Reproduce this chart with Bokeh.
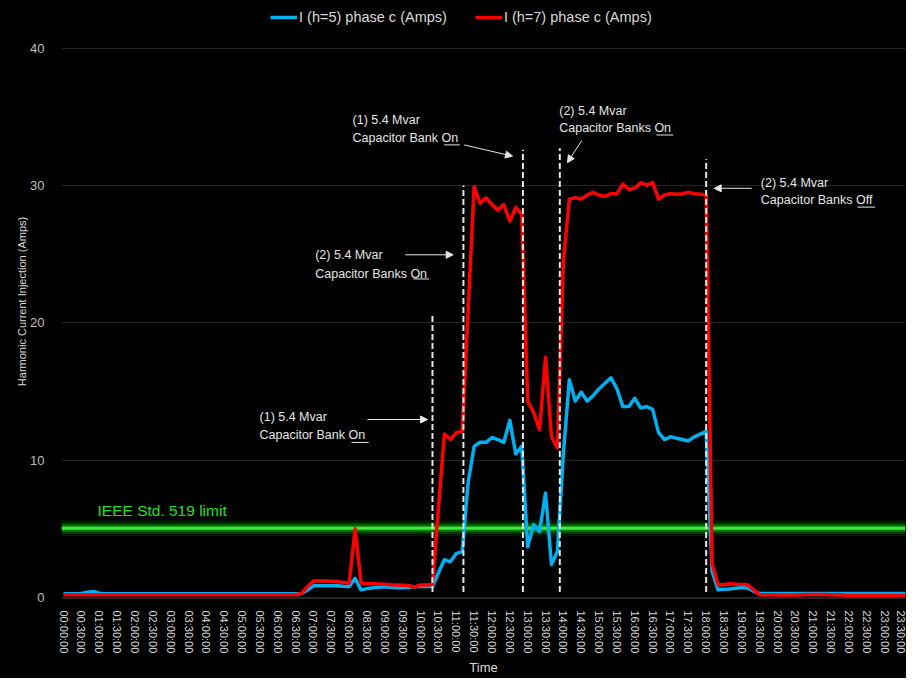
from bokeh.plotting import figure
from bokeh.models import (Range1d, FixedTicker, Legend, LegendItem, Arrow,
                          NormalHead, Label, Span)
from bokeh.core.properties import value
from bokeh.embed import file_html
from bokeh.resources import INLINE

# ---------------- data (10-minute samples, 00:00 .. 23:50) ----------------
sample_minutes = list(range(0, 1440, 10))

h5_amps = [
    0.28, 0.28, 0.28, 0.30, 0.38, 0.45, 0.32, 0.28, 0.28, 0.28,
    0.28, 0.28, 0.28, 0.28, 0.28, 0.28, 0.28, 0.28, 0.28, 0.28,
    0.28, 0.28, 0.28, 0.28, 0.28, 0.28, 0.28, 0.28, 0.28, 0.28,
    0.28, 0.28, 0.28, 0.28, 0.28, 0.28, 0.28, 0.28, 0.28, 0.28,
    0.30, 0.55, 0.85, 0.85, 0.85, 0.85, 0.85, 0.82, 0.80, 1.40,
    0.56, 0.65, 0.72, 0.75, 0.78, 0.75, 0.72, 0.72, 0.75, 0.78,
    0.80, 0.80, 0.80, 1.80, 2.75, 2.60, 3.20, 3.35, 8.40, 11.0,
    11.3, 11.3, 11.65, 11.5, 11.3, 12.9, 10.45, 11.0, 3.70, 5.30,
    4.80, 7.60, 2.40, 3.35, 10.5, 15.85, 14.3, 14.95, 14.3, 14.7,
    15.2, 15.6, 16.0, 15.2, 13.9, 13.9, 14.5, 13.8, 13.9, 13.7,
    12.0, 11.5, 11.7, 11.6, 11.5, 11.4, 11.7, 11.9, 12.1, 1.90,
    0.56, 0.60, 0.63, 0.68, 0.73, 0.70, 0.45, 0.30, 0.30, 0.30,
    0.30, 0.30, 0.30, 0.30, 0.30, 0.30, 0.30, 0.30, 0.30, 0.30,
    0.30, 0.30, 0.30, 0.30, 0.30, 0.30, 0.30, 0.30, 0.30, 0.30,
    0.30, 0.30, 0.30, 0.30,
]

h7_amps = [
    0.20, 0.20, 0.20, 0.20, 0.20, 0.20, 0.20, 0.20, 0.20, 0.20,
    0.20, 0.20, 0.20, 0.20, 0.20, 0.20, 0.20, 0.20, 0.20, 0.20,
    0.20, 0.20, 0.20, 0.20, 0.20, 0.20, 0.20, 0.20, 0.20, 0.20,
    0.20, 0.20, 0.20, 0.20, 0.20, 0.20, 0.20, 0.20, 0.20, 0.20,
    0.30, 0.80, 1.20, 1.20, 1.20, 1.18, 1.15, 1.10, 1.05, 5.00,
    1.05, 1.02, 1.00, 0.98, 0.97, 0.93, 0.92, 0.90, 0.88, 0.75,
    0.92, 0.92, 0.95, 6.50, 11.9, 11.5, 12.0, 12.1, 21.0, 29.9,
    28.7, 29.1, 28.6, 28.2, 28.6, 27.4, 28.4, 27.9, 14.3, 13.5,
    12.2, 17.5, 11.7, 10.9, 24.5, 29.0, 29.1, 29.0, 29.3, 29.5,
    29.3, 29.2, 29.4, 29.4, 30.1, 29.7, 29.8, 30.2, 30.0, 30.2,
    29.0, 29.3, 29.4, 29.35, 29.4, 29.5, 29.4, 29.35, 29.3, 2.50,
    0.92, 0.95, 1.00, 0.97, 0.95, 0.93, 0.55, 0.20, 0.20, 0.20,
    0.18, 0.18, 0.18, 0.18, 0.20, 0.22, 0.22, 0.22, 0.22, 0.20,
    0.20, 0.18, 0.15, 0.15, 0.15, 0.15, 0.15, 0.15, 0.15, 0.15,
    0.15, 0.15, 0.15, 0.15,
]

tick_minutes = list(range(0, 1440, 30))
time_labels = [
    "00:00:00", "00:30:00", "01:00:00", "01:30:00", "02:00:00", "02:30:00",
    "03:00:00", "03:30:00", "04:00:00", "04:30:00", "05:00:00", "05:30:00",
    "06:00:00", "06:30:00", "07:00:00", "07:30:00", "08:00:00", "08:30:00",
    "09:00:00", "09:30:00", "10:00:00", "10:30:00", "11:00:00", "11:30:00",
    "12:00:00", "12:30:00", "13:00:00", "13:30:00", "14:00:00", "14:30:00",
    "15:00:00", "15:30:00", "16:00:00", "16:30:00", "17:00:00", "17:30:00",
    "18:00:00", "18:30:00", "19:00:00", "19:30:00", "20:00:00", "20:30:00",
    "21:00:00", "21:30:00", "22:00:00", "22:30:00", "23:00:00", "23:30:00",
]
y_ticks = [0, 10, 20, 30, 40]

ieee_limit = 5.05
switch_minutes = [620, 672, 772, 834, 1080]
switch_tops = [20.5, 30.0, 32.6, 32.7, 31.9]
switch_bottom = 0.4

# annotation texts (position in minutes / amps)
note_line1 = ["(1) 5.4 Mvar", "(2) 5.4 Mvar", "(1) 5.4 Mvar", "(2) 5.4 Mvar", "(2) 5.4 Mvar"]
note_line2 = ["Capacitor Bank On", "Capacitor Banks On", "Capacitor Bank On",
              "Capacitor Banks On", "Capacitor Banks Off"]
note_x = [329.3, 422.9, 485.6, 833.0, 1171.8]
note_y1 = [13.16, 24.95, 34.79, 35.45, 30.18]
note_y2 = [11.85, 23.57, 33.43, 34.16, 28.91]
underline_x0 = [483.9, 588.1, 639.7, 996.5, 1334.3]
underline_x1 = [512.5, 614.5, 665.9, 1024.6, 1364.0]
underline_y = [11.29, 23.19, 32.95, 33.67, 28.42]
arrow_x0 = [510.8, 574.1, 673.3, 870.9, 1156.6]
arrow_y0 = [12.96, 24.95, 32.95, 33.27, 29.79]
arrow_x1 = [611.6, 654.8, 754.5, 846.9, 1093.5]
arrow_y1 = [12.96, 24.95, 32.13, 31.66, 29.79]

FONT = "Liberation Sans"

p = figure(width=906, height=678,
           x_range=Range1d(-3.5, 1415), y_range=Range1d(-0.07, 43.17),
           output_backend="svg", toolbar_location=None,
           background_fill_color="black", border_fill_color="black",
           min_border_left=61, min_border_right=1, min_border_top=4,
           min_border_bottom=79)
p.styles = {"background-color": "#000000"}
p.outline_line_color = None

# axes
p.xaxis.ticker = FixedTicker(ticks=tick_minutes)
p.xaxis.major_label_overrides = dict(zip(tick_minutes, time_labels))
p.xaxis.major_label_orientation = "vertical"
p.xaxis.major_label_text_font = FONT
p.xaxis.major_label_text_font_size = "11px"
p.xaxis.major_label_text_color = "#d9d9d9"
p.xaxis.major_label_standoff = 12
p.xaxis.major_tick_in = 0
p.xaxis.major_tick_out = 0
p.xaxis.minor_tick_in = 0
p.xaxis.minor_tick_out = 0
p.xaxis.axis_line_color = "#262626"
p.xaxis.axis_label = "Time"
p.xaxis.axis_label_text_font = FONT
p.xaxis.axis_label_text_font_size = "13px"
p.xaxis.axis_label_text_font_style = "normal"
p.xaxis.axis_label_text_color = "#d9d9d9"
p.xaxis.axis_label_standoff = 4

p.yaxis.ticker = FixedTicker(ticks=y_ticks)
p.yaxis.major_label_text_font = FONT
p.yaxis.major_label_text_font_size = "13px"
p.yaxis.major_label_text_color = "#bfbfbf"
p.yaxis.major_label_standoff = 17
p.yaxis.major_tick_in = 0
p.yaxis.major_tick_out = 0
p.yaxis.minor_tick_in = 0
p.yaxis.minor_tick_out = 0
p.yaxis.axis_line_color = None
p.yaxis.axis_label = "Harmonic Current Injection (Amps)"
p.yaxis.axis_label_text_font = FONT
p.yaxis.axis_label_text_font_size = "11px"
p.yaxis.axis_label_text_font_style = "normal"
p.yaxis.axis_label_text_color = "#d9d9d9"
p.yaxis.axis_label_standoff = -1

p.xgrid.grid_line_color = None
p.ygrid.grid_line_color = "#262626"

# IEEE limit glowing band
for w, a, c in [(16, 0.12, "#00c800"), (11, 0.2, "#00d000"), (7, 0.4, "#10d810"), (3, 1.0, "#40e840")]:
    p.add_layout(Span(location=ieee_limit, dimension="width", line_color=c,
                      line_alpha=a, line_width=w, level="underlay"))

p.add_layout(Label(x=57, y=6.33, text="IEEE Std. 519 limit", text_color="#22e022",
                   text_font=FONT, text_font_size="15.5px", text_baseline="middle"))

# series
r5 = p.line(sample_minutes, h5_amps, line_color="#00b0f0", line_width=3.5, line_join="round")
r7 = p.line(sample_minutes, h7_amps, line_color="#ff0000", line_width=3.5, line_join="round")

# switching events
p.segment(x0=switch_minutes, y0=switch_bottom, x1=switch_minutes, y1=switch_tops,
          line_color="#e6e6e6", line_width=2, line_dash="6 3")

# annotations
p.text(x=note_x, y=note_y1, text=note_line1, text_color="#e6e6e6",
       text_font=value(FONT), text_font_size="12.5px", text_baseline="middle", text_align="left")
p.text(x=note_x, y=note_y2, text=note_line2, text_color="#e6e6e6",
       text_font=value(FONT), text_font_size="12.5px", text_baseline="middle", text_align="left")
p.segment(x0=underline_x0, y0=underline_y, x1=underline_x1, y1=underline_y,
          line_color="#e6e6e6", line_width=1)
for xs, ys, xe, ye in zip(arrow_x0, arrow_y0, arrow_x1, arrow_y1):
    p.add_layout(Arrow(x_start=xs, y_start=ys, x_end=xe, y_end=ye,
                       line_color="#e6e6e6", line_width=1,
                       end=NormalHead(size=7, fill_color="#e6e6e6", line_color="#e6e6e6")))

legend = Legend(items=[LegendItem(label="I (h=5) phase c (Amps)", renderers=[r5]),
                       LegendItem(label="I (h=7) phase c (Amps)", renderers=[r7])],
                orientation="horizontal", location=(209, 571), padding=0, margin=0,
                spacing=28, glyph_width=27, glyph_height=20, label_standoff=2,
                label_height=20,
                label_text_color="#d9d9d9", label_text_font=FONT,
                label_text_font_size="14.5px", background_fill_alpha=0,
                border_line_color=None)
p.add_layout(legend)

open("out.html", "w").write(file_html(p, INLINE))
